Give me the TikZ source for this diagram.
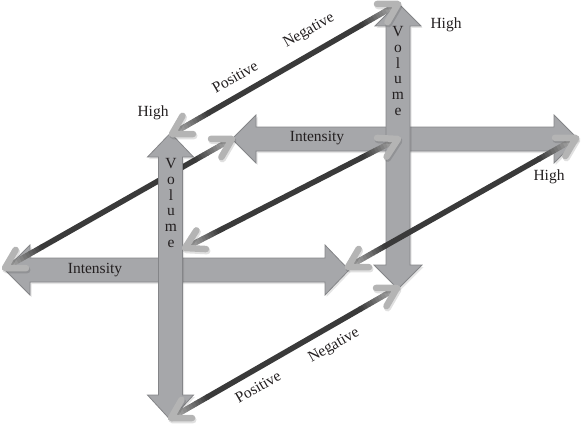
\documentclass[tikz,border=0pt]{standalone}
\usepackage{fontspec}
\setmainfont{Liberation Serif}
\usetikzlibrary{calc}
\definecolor{blockfill}{RGB}{166,167,170}
\definecolor{blockedge}{RGB}{132,133,136}
\definecolor{lineD}{RGB}{58,58,58}
\definecolor{lineL}{RGB}{190,190,190}
\definecolor{headC}{RGB}{180,180,180}
\definecolor{txt}{RGB}{35,31,32}
\tikzset{
  block/.style={fill=blockfill, draw=blockedge, line width=0.8pt, line join=miter},
  blockshadow/.style={fill=black, opacity=0.10, draw=none},
  dline/.style={line width=5.5pt, line cap=butt},
  ahead/.style={draw=headC, line width=6.5pt, line cap=round, line join=round},
  aheadshadow/.style={draw=black, opacity=0.12, line width=7pt, line cap=round, line join=round},
  lbl/.style={font=\fontsize{15.5}{16}\selectfont, text=txt, inner sep=0pt},
  vol/.style={font=\fontsize{15.5}{15.8}\selectfont, text=txt, inner sep=0pt, align=center},
}
\newcommand\dualline[2]{%
  \foreach \k in {0,...,11}{%
    \pgfmathsetmacro\ta{\k*0.0135}%
    \pgfmathsetmacro\tb{\ta+0.015}%
    \pgfmathsetmacro\ua{1-\ta}%
    \pgfmathsetmacro\ub{1-\tb}%
    \pgfmathsetmacro\pc{(\k+0.5)*100/12}%
    \draw[dline, draw=lineD!\pc!lineL] ($(#1)!\ta!(#2)$) -- ($(#1)!\tb!(#2)$);
    \draw[dline, draw=lineD!\pc!lineL] ($(#1)!\ua!(#2)$) -- ($(#1)!\ub!(#2)$);
  }%
  \draw[dline, draw=lineD] ($(#1)!0.16!(#2)$) -- ($(#1)!0.84!(#2)$);
  \draw[aheadshadow, transform canvas={shift={(1pt,-1.8pt)}}] ($(#1)!21pt!30:(#2)$) -- (#1) -- ($(#1)!21pt!-30:(#2)$);
  \draw[aheadshadow, transform canvas={shift={(1pt,-1.8pt)}}] ($(#2)!21pt!30:(#1)$) -- (#2) -- ($(#2)!21pt!-30:(#1)$);
  \draw[ahead] ($(#1)!21pt!30:(#2)$) -- (#1) -- ($(#1)!21pt!-30:(#2)$);
  \draw[ahead] ($(#2)!21pt!30:(#1)$) -- (#2) -- ($(#2)!21pt!-30:(#1)$);
}
\begin{document}
\begin{tikzpicture}[x=1pt,y=-1pt]
\useasboundingbox (0,0) rectangle (583,425);
% named tips
\coordinate (fL) at (5,268);
\coordinate (fR) at (348,267);
\coordinate (fT) at (172,134);
\coordinate (fB) at (171,418);
\coordinate (fC) at (185,248);
\coordinate (bL) at (232,139);
\coordinate (bR) at (576,138);
\coordinate (bT) at (398,4);
\coordinate (bB) at (397,288);
\coordinate (bC) at (398,139);
% back cross
\fill[blockshadow, transform canvas={shift={(1.5pt,-2pt)}}] (232,139) -- (256,115) -- (256,127) -- (554,127) -- (554,115) -- (578,139) -- (554,163) -- (554,151) -- (256,151) -- (256,163) -- cycle;
\path[block] (232,139) -- (256,115) -- (256,127) -- (554,127) -- (554,115) -- (578,139) -- (554,163) -- (554,151) -- (256,151) -- (256,163) -- cycle;
\fill[blockshadow, transform canvas={shift={(1.5pt,-2pt)}}] (398,3) -- (375,26) -- (386,26) -- (386,265) -- (374,265) -- (398,289) -- (422,265) -- (410,265) -- (410,26) -- (421,26) -- cycle;
\path[block] (398,3) -- (375,26) -- (386,26) -- (386,265) -- (374,265) -- (398,289) -- (422,265) -- (410,265) -- (410,26) -- (421,26) -- cycle;
% front horizontal
\fill[blockshadow, transform canvas={shift={(1.5pt,-2pt)}}] (5,270) -- (30,245) -- (30,258) -- (325,258) -- (325,245) -- (349,270) -- (325,295) -- (325,282) -- (30,282) -- (30,295) -- cycle;
\path[block] (5,270) -- (30,245) -- (30,258) -- (325,258) -- (325,245) -- (349,270) -- (325,295) -- (325,282) -- (30,282) -- (30,295) -- cycle;
% line behind the front vertical
\dualline{fL}{bL}
% front vertical
\fill[blockshadow, transform canvas={shift={(1.5pt,-2pt)}}] (170.5,133) -- (147.5,157) -- (158.5,157) -- (158.5,395) -- (147.5,395) -- (170.5,420) -- (193.5,395) -- (182.5,395) -- (182.5,157) -- (193.5,157) -- cycle;
\path[block] (170.5,133) -- (147.5,157) -- (158.5,157) -- (158.5,395) -- (147.5,395) -- (170.5,420) -- (193.5,395) -- (182.5,395) -- (182.5,157) -- (193.5,157) -- cycle;
% other lines
\dualline{fT}{bT}
\dualline{fC}{bC}
\dualline{fR}{bR}
\dualline{fB}{bB}
% labels
\node[lbl] (hi1) at (153,113) {High};
\node[lbl] (hi2) at (446,25) {High};
\node[lbl] (hi3) at (549,177) {High};
\node[lbl] (int1) at (317,138) {Intensity};
\node[lbl] (int2) at (95,270) {Intensity};
\node[vol] (vol1) at (171,203) {V\\o\\l\\u\\m\\e};
\node[vol] (vol2) at (398,71) {V\\o\\l\\u\\m\\e};
\node[lbl, rotate=30] (pos1) at (235,77) {Positive};
\node[lbl, rotate=30] (neg1) at (309,31) {Negative};
\node[lbl, rotate=30] (pos2) at (258,387) {Positive};
\node[lbl, rotate=30] (neg2) at (334,346) {Negative};
\end{tikzpicture}
\end{document}
